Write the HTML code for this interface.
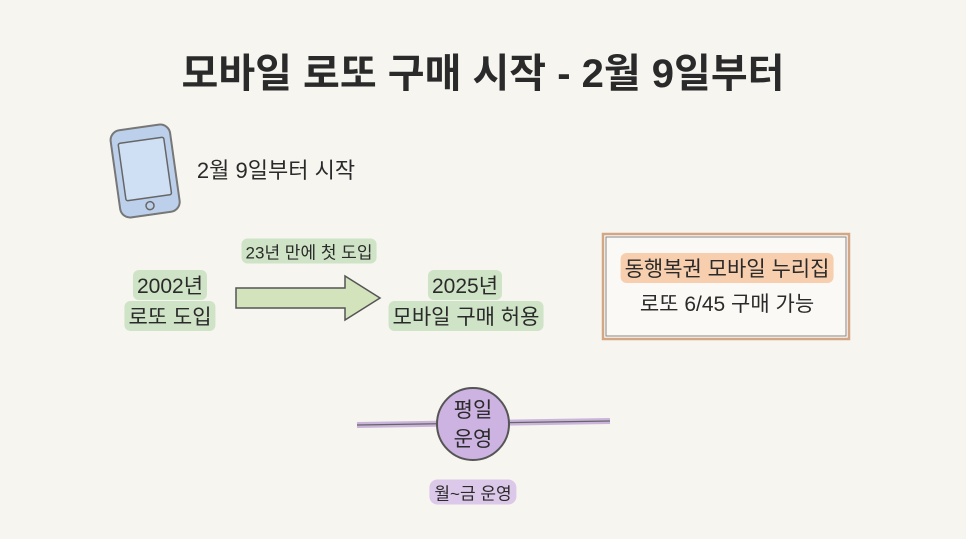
<!DOCTYPE html>
<html><head><meta charset="utf-8"><style>
body{margin:0;width:966px;height:539px;background:#f6f5f0;overflow:hidden;position:relative;font-family:"Liberation Sans","Noto Sans CJK KR",sans-serif;color:#2a2a2a}
.t{position:absolute;white-space:nowrap;transform:translate(-50%,-50%)}
.g{background:#cfe3c6;border-radius:6px;padding:0 4px}
.o{background:#f7cfae;border-radius:6px;padding:0 4px}
.p{background:#dcc8e8;border-radius:8px;padding:0 5px}
</style></head><body>
<svg width="966" height="539" style="position:absolute;left:0;top:0">
<g transform="rotate(-8 145 170)">
<rect x="115" y="127" width="60" height="88" rx="10" fill="#bcd0ec" stroke="#777" stroke-width="2"/>
<rect x="122" y="140" width="46" height="58" rx="2" fill="#cfdff4" stroke="#666" stroke-width="1.5"/>
<circle cx="145" cy="206" r="4" fill="none" stroke="#666" stroke-width="1.5"/>
</g>
<polygon points="236,288 345,288 345,276 380,298 345,320 345,308 236,308" fill="#d3e4bd" stroke="#555" stroke-width="1.5"/>
<rect x="603" y="234" width="246" height="105" fill="#fbf9f5" stroke="#d3a684" stroke-width="2.5"/>
<rect x="606" y="237" width="240" height="99" fill="none" stroke="#888" stroke-width="1"/>
<line x1="357" y1="425" x2="610" y2="421" stroke="#cbb4dc" stroke-width="6"/>
<line x1="357" y1="425" x2="610" y2="421" stroke="#666" stroke-width="1.2"/>
<circle cx="473" cy="424" r="36" fill="#cdb3e2" stroke="#555" stroke-width="2"/>
</svg>
<div class="t" style="left:483px;top:70px;font-size:40px;font-weight:bold">모바일 로또 구매 시작 - 2월 9일부터</div>
<div class="t" style="left:276px;top:169px;font-size:22px">2월 9일부터 시작</div>
<div class="t g" style="left:309px;top:251px;font-size:17px">23년 만에 첫 도입</div>
<div class="t g" style="left:170px;top:285px;font-size:21px">2002년</div>
<div class="t g" style="left:170px;top:316px;font-size:21px">로또 도입</div>
<div class="t g" style="left:465px;top:285px;font-size:21px">2025년</div>
<div class="t g" style="left:466px;top:316px;font-size:21px">모바일 구매 허용</div>
<div class="t o" style="left:727px;top:268px;font-size:21px">동행복권 모바일 누리집</div>
<div class="t" style="left:727px;top:303px;font-size:21px">로또 6/45 구매 가능</div>
<div class="t" style="left:473px;top:409px;font-size:21px">평일</div>
<div class="t" style="left:473px;top:438px;font-size:21px">운영</div>
<div class="t p" style="left:473px;top:492px;font-size:17px">월~금 운영</div>
</body></html>
